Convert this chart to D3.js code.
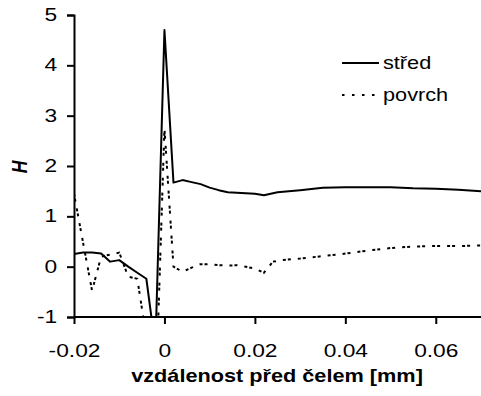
<!DOCTYPE html>
<html lang="cs">
<head>
<meta charset="UTF-8">
<script src="https://d3js.org/d3.v7.min.js"></script>
<style>
    body { margin: 0; background: #fff; }
    svg { display: block; font-family: 'Liberation Sans', Arial, sans-serif; }
    .tick text { font-size: 17.5px; fill: #000; }
</style>
</head>
<body>
<svg id="chart" width="481" height="396"></svg>
<script>
    // data
    const xStred = [-0.02, -0.018, -0.016, -0.014, -0.012, -0.010, -0.008, -0.006, -0.004, -0.002, 0,
        0.002, 0.004, 0.006, 0.008, 0.010, 0.012, 0.014, 0.016, 0.018, 0.020, 0.022, 0.025, 0.030,
        0.035, 0.040, 0.045, 0.050, 0.055, 0.060, 0.065, 0.070];
    const stred = [0.25, 0.28, 0.28, 0.26, 0.10, 0.13, 0.00, -0.12, -0.24, -1.6, 4.7,
        1.67, 1.72, 1.68, 1.64, 1.57, 1.52, 1.48, 1.47, 1.46, 1.45, 1.42, 1.48, 1.52,
        1.57, 1.58, 1.58, 1.58, 1.56, 1.55, 1.53, 1.50];

    const xPovrch = [-0.02, -0.018, -0.016, -0.014, -0.012, -0.010, -0.008, -0.006, -0.004, -0.002, 0,
        0.002, 0.004, 0.006, 0.008, 0.010, 0.012, 0.014, 0.016, 0.018, 0.020, 0.022, 0.024, 0.026,
        0.028, 0.030, 0.035, 0.040, 0.045, 0.050, 0.055, 0.060, 0.065, 0.070];
    const povrch = [1.45, 0.48, -0.48, 0.20, 0.24, 0.28, -0.20, -0.24, -1.4, -2.8, 2.75,
        0.00, -0.10, -0.02, 0.05, 0.05, 0.03, 0.02, 0.03, 0.00, -0.04, -0.12, 0.10, 0.13,
        0.15, 0.16, 0.21, 0.26, 0.32, 0.37, 0.40, 0.41, 0.41, 0.42];

    const xTicks = [-0.02, 0, 0.02, 0.04, 0.06];
    const yTicks = [-1, 0, 1, 2, 3, 4, 5];
    const seriesNames = ["střed", "povrch"];

    const svg = d3.select("#chart");
    const plotL = 74, plotR = 481, plotT = 15, plotB = 317;
    const stretch = 1.24; // text in the picture is wider than normal

    const x = d3.scaleLinear().domain([-0.02, 0.07]).range([plotL, plotR]);
    const y = d3.scaleLinear().domain([-1, 5]).range([plotB, plotT]);

    svg.append("defs").append("clipPath").attr("id", "plot")
        .append("rect").attr("x", plotL).attr("y", 0)
        .attr("width", plotR - plotL).attr("height", plotB);

    const line = d3.line().x(d => x(d[0])).y(d => y(d[1]));

    const g = svg.append("g").attr("clip-path", "url(#plot)");
    g.append("path")
        .datum(xStred.map((v, i) => [v, stred[i]]))
        .attr("d", line)
        .attr("fill", "none").attr("stroke", "#000").attr("stroke-width", 2)
        .attr("stroke-linejoin", "round");
    g.append("path")
        .datum(xPovrch.map((v, i) => [v, povrch[i]]))
        .attr("d", line)
        .attr("fill", "none").attr("stroke", "#000").attr("stroke-width", 2)
        .attr("stroke-dasharray", "3,2,3,7");

    // plain hyphen for minus, like the original
    const fmtX = d => d === 0 ? "0" : d3.format(".2f")(d).replace("−", "-");
    const fmtY = d => String(d);

    const xAxis = svg.append("g").attr("transform", `translate(0,${plotB})`)
        .call(d3.axisBottom(x).tickValues(xTicks).tickSize(7).tickFormat(fmtX));
    xAxis.select(".domain").attr("d", `M${plotL},0H${plotR}`);

    const yAxis = svg.append("g").attr("transform", `translate(${plotL},0)`)
        .call(d3.axisLeft(y).tickValues(yTicks).tickSize(7).tickPadding(6).tickFormat(fmtY));

    svg.selectAll(".domain, .tick line").attr("stroke", "#000").attr("stroke-width", 2);
    svg.selectAll(".tick text").attr("font-family", null).attr("font-size", null)
        .attr("transform", `scale(1.3,1)`);
    xAxis.selectAll(".tick text").attr("dy", null).attr("y", 40);

    // axis titles
    svg.append("text").attr("transform", `translate(277,382) scale(${stretch},1)`)
        .attr("text-anchor", "middle")
        .attr("font-size", 17.5).attr("font-weight", "bold")
        .text("vzdálenost před čelem [mm]");
    svg.append("text").attr("transform", `translate(27,167) scale(${stretch},1) rotate(-90)`)
        .attr("text-anchor", "middle").attr("font-size", 17.5)
        .attr("font-weight", "bold").attr("font-style", "italic").text("H");

    // legend
    const legend = svg.append("g");
    seriesNames.forEach((name, i) => {
        const ly = 63 + i * 32;
        legend.append("line").attr("x1", 342).attr("x2", 379).attr("y1", ly).attr("y2", ly)
            .attr("stroke", "#000").attr("stroke-width", 2)
            .attr("stroke-dasharray", i === 0 ? null : "2.5,7.5");
        legend.append("text").attr("transform", `translate(383,${ly + 6}) scale(${stretch},1)`)
            .attr("font-size", 17.5).text(name);
    });
</script>
</body>
</html>
